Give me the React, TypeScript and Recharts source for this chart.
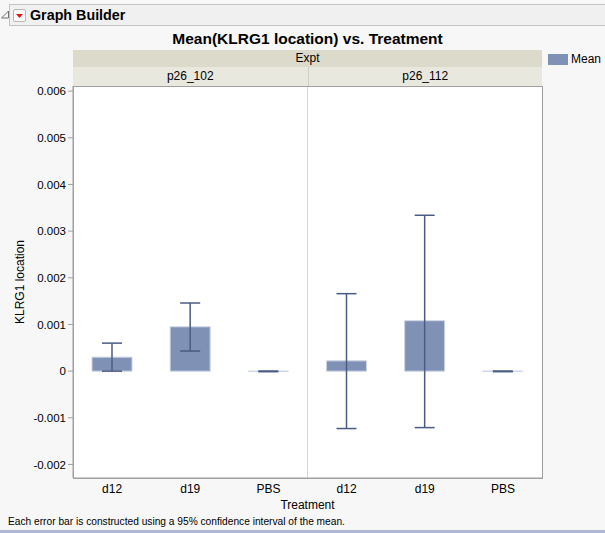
import { Bar, BarChart, CartesianGrid, ErrorBar, ReferenceLine, XAxis, YAxis } from 'recharts'

const FONT = '"Liberation Sans", Arial, sans-serif'
const BAR_FILL = '#7f92b6'
const BAR_EDGE = '#cdd4e4'
const ERR_COLOUR = '#4b5b83'
const BAND_TOP = '#dcdacb'
const BAND_SUB = '#e9e8de'

const experiments = ['p26_102', 'p26_112']
const treatments = ['d12', 'd19', 'PBS']

// mean and 95% CI per experiment, in treatment order
const means102 = [0.0003, 0.00095, -0.000005]
const lower102 = [0.0, 0.00043, -0.000012]
const upper102 = [0.0006, 0.00146, 0.000002]
const means112 = [0.00022, 0.00108, -0.000005]
const lower112 = [-0.00123, -0.00121, -0.000012]
const upper112 = [0.00166, 0.00334, 0.000002]

const yTicks = [-0.002, -0.001, 0, 0.001, 0.002, 0.003, 0.004, 0.005, 0.006]

const means = [means102, means112]
const lowers = [lower102, lower112]
const uppers = [upper102, upper112]

const data = experiments.flatMap((expt, e) =>
  treatments.map((t, i) => ({
    key: `${expt}:${t}`,
    treatment: t,
    mean: means[e][i],
    err: [means[e][i] - lowers[e][i], uppers[e][i] - means[e][i]],
  })),
)

const PLOT_L = 73
const PLOT_T = 86
const PLOT_R = 542
const PLOT_B = 478
const X_AXIS_H = 20

function fmtTick(v: number) {
  if (v === 0) return '0'
  return v.toFixed(3)
}

export default function App() {
  const half = (PLOT_R - PLOT_L) / 2
  return (
    <div
      style={{
        position: 'absolute',
        left: 0,
        top: 0,
        width: 605,
        height: 533,
        background: '#f7f7f7',
        fontFamily: FONT,
        color: '#000',
        overflow: 'hidden',
      }}
    >
      {/* outline header */}
      <svg style={{ position: 'absolute', left: 1, top: 10 }} width={9} height={9}>
        <path d="M7.5 1 L7.5 8 L0.5 8 Z" fill="none" stroke="#707070" strokeWidth={1} />
      </svg>
      <div
        style={{
          position: 'absolute',
          left: 9,
          top: 4,
          width: 600,
          height: 22,
          boxSizing: 'border-box',
          border: '1px solid #c4c4c4',
          background: '#f0f0f0',
        }}
      />
      <div
        style={{
          position: 'absolute',
          left: 13,
          top: 9,
          width: 13,
          height: 13,
          boxSizing: 'border-box',
          border: '1px solid #b8b8b8',
          borderRadius: 2,
          background: '#fafafa',
        }}
      >
        <svg width={11} height={11} style={{ position: 'absolute', left: 0, top: 0 }}>
          <path d="M2 4 L9 4 L5.5 8 Z" fill="#e01818" />
        </svg>
      </div>
      <div style={{ position: 'absolute', left: 30, top: 7, fontSize: 14.3, fontWeight: 700 }}>Graph Builder</div>

      <div
        style={{
          position: 'absolute',
          left: PLOT_L - 20,
          width: PLOT_R - PLOT_L + 40,
          top: 30,
          textAlign: 'center',
          fontSize: 15.5,
          fontWeight: 700,
        }}
      >
        Mean(KLRG1 location) vs. Treatment
      </div>

      {/* facet bands */}
      <div
        style={{
          position: 'absolute',
          left: PLOT_L,
          top: 50,
          width: PLOT_R - PLOT_L,
          height: 17,
          background: BAND_TOP,
          textAlign: 'center',
          fontSize: 12,
          lineHeight: '17px',
        }}
      >
        Expt
      </div>
      {experiments.map((expt, e) => (
        <div
          key={expt}
          style={{
            position: 'absolute',
            left: PLOT_L + e * half,
            top: 67,
            width: half,
            height: 19,
            boxSizing: 'border-box',
            borderLeft: e > 0 ? '1px solid #d2d0c4' : 'none',
            background: BAND_SUB,
            textAlign: 'center',
            fontSize: 12,
            lineHeight: '19px',
          }}
        >
          {expt}
        </div>
      ))}

      {/* legend */}
      <div style={{ position: 'absolute', left: 548, top: 54, width: 20, height: 11, background: BAR_FILL }} />
      <div style={{ position: 'absolute', left: 571, top: 52, fontSize: 12 }}>Mean</div>

      <div style={{ position: 'absolute', left: 0, top: 0 }}>
        <BarChart
          width={605}
          height={533}
          data={data}
          margin={{ top: PLOT_T, right: 605 - PLOT_R, bottom: 533 - PLOT_B - X_AXIS_H, left: 0 }}
          barCategoryGap={0}
        >
          <CartesianGrid fill="#ffffff" horizontal={false} vertical={false} />
          <XAxis
            dataKey="key"
            tickFormatter={(v: string) => v.split(':')[1]}
            axisLine={{ stroke: '#a0a0a0' }}
            tickLine={false}
            tick={{ fill: '#000', fontSize: 12, fontFamily: FONT }}
            height={X_AXIS_H}
            interval={0}
            tickMargin={0}
          />
          <YAxis
            width={PLOT_L}
            domain={[-0.00229, 0.00611]}
            ticks={yTicks}
            allowDataOverflow
            tickFormatter={fmtTick}
            axisLine={{ stroke: '#a0a0a0' }}
            tickLine={{ stroke: '#a0a0a0' }}
            tickSize={5}
            tick={{ fill: '#000', fontSize: 11.5, fontFamily: FONT }}
          />
          <ReferenceLine x={`${experiments[0]}:PBS`} position="end" stroke="#d6d6d6" ifOverflow="visible" />
          <Bar dataKey="mean" fill={BAR_FILL} stroke={BAR_EDGE} strokeWidth={1} barSize={40} isAnimationActive={false}>
            <ErrorBar
              dataKey="err"
              width={10}
              stroke={ERR_COLOUR}
              strokeWidth={1.5}
              direction="y"
              isAnimationActive={false}
            />
          </Bar>
        </BarChart>
      </div>

      {/* plot frame */}
      <div
        style={{
          position: 'absolute',
          left: PLOT_L,
          top: PLOT_T,
          width: PLOT_R - PLOT_L + 1,
          height: PLOT_B - PLOT_T + 1,
          boxSizing: 'border-box',
          border: '1px solid #a0a0a0',
          pointerEvents: 'none',
        }}
      />

      <div
        style={{
          position: 'absolute',
          left: 20,
          top: (PLOT_T + PLOT_B) / 2,
          transform: 'translate(-50%, -50%) rotate(-90deg)',
          fontSize: 12,
          whiteSpace: 'nowrap',
        }}
      >
        KLRG1 location
      </div>
      <div
        style={{ position: 'absolute', left: PLOT_L, width: PLOT_R - PLOT_L, top: 498, textAlign: 'center', fontSize: 12 }}
      >
        Treatment
      </div>
      <div style={{ position: 'absolute', left: 8, top: 516, fontSize: 10.2 }}>
        Each error bar is constructed using a 95% confidence interval of the mean.
      </div>
      <div style={{ position: 'absolute', left: 0, top: 530, width: 605, height: 3, background: '#aeb8d0' }} />
    </div>
  )
}
